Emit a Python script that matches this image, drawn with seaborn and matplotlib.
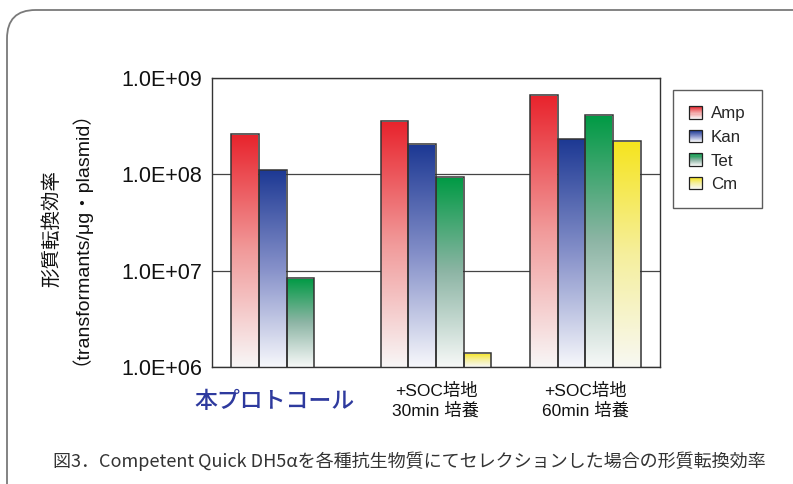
import numpy as np
import pandas as pd
import matplotlib
matplotlib.use("Agg")
import matplotlib.pyplot as plt
import seaborn as sns
from matplotlib.patches import Rectangle, FancyBboxPatch, Patch
from matplotlib.legend_handler import HandlerBase
from matplotlib.transforms import ScaledTranslation

# ---------------- data ----------------
conditions = ["本プロトコール", "+SOC培地\n30min 培養", "+SOC培地\n60min 培養"]
antibiotics = ["Amp", "Kan", "Tet", "Cm"]
amp = [2.6e8, 3.55e8, 6.6e8]
kan = [1.12e8, 2.05e8, 2.35e8]
tet = [8.3e6, 9.3e7, 4.1e8]
cm = [np.nan, 1.39e6, 2.2e8]
y_ticks = [1e6, 1e7, 1e8, 1e9]
y_tick_labels = ["1.0E+06", "1.0E+07", "1.0E+08", "1.0E+09"]
y_label = "形質転換効率\n（transformants/μg・plasmid）"
caption = "図3．Competent Quick DH5αを各種抗生物質にてセレクションした場合の形質転換効率"

# gradient stops (top -> middle -> bottom) per series
grad_stops = {
    "Amp": ["#e8232c", "#f19a9a", "#f8f6f6"],
    "Kan": ["#1c3893", "#8590c9", "#f6f7fb"],
    "Tet": ["#009a44", "#8db5a5", "#f6f8f7"],
    "Cm":  ["#f6e41e", "#f5ef9c", "#f8f8f2"],
}

rows = []
for i, c in enumerate(conditions):
    for a, vals in zip(antibiotics, [amp, kan, tet, cm]):
        rows.append({"condition": c, "antibiotic": a, "value": vals[i]})
df = pd.DataFrame(rows)

sns.set_theme(style="white")
FONT_MIX = ["Liberation Sans", "Noto Sans CJK JP"]
plt.rcParams["font.family"] = FONT_MIX

fig = plt.figure(figsize=(7.93, 4.84), dpi=100)
ax = fig.add_axes([212 / 793, 1 - 367 / 484, (660 - 212) / 793, (367 - 78) / 484])

sns.barplot(data=df, x="condition", y="value", hue="antibiotic",
            order=conditions, hue_order=antibiotics, ax=ax,
            width=0.74, errorbar=None, legend=False, log_scale=(False, True))

ax.set_yscale("log")
ax.set_ylim(1e6, 1e9)
ax.set_xlim(-0.5, len(conditions) - 0.5)
ax.autoscale(False)


def make_gradient(stops, n=256):
    cols = np.array([matplotlib.colors.to_rgb(s) for s in stops])
    t = np.linspace(0, 1, n)
    pos = np.linspace(0, 1, len(stops))
    arr = np.stack([np.interp(t, pos, cols[:, k]) for k in range(3)], axis=1)
    return arr  # row 0 = top


fig.canvas.draw()
for cont, name in zip(ax.containers, antibiotics):
    grad = make_gradient(grad_stops[name])[:, None, :]
    for bar in cont:
        h = bar.get_height()
        if not np.isfinite(h) or h <= 0:
            bar.set_visible(False)
            continue
        x0 = bar.get_x()
        w = bar.get_width()
        top_axes = ax.transAxes.inverted().transform(ax.transData.transform((x0, h)))[1]
        im = ax.imshow(grad, extent=[x0, x0 + w, 0, top_axes], origin="upper",
                       aspect="auto", transform=ax.get_xaxis_transform(),
                       interpolation="bilinear", zorder=2)
        im.set_clip_path(bar)
        bar.set_facecolor("none")
        bar.set_edgecolor("#333333")
        bar.set_linewidth(1.1)
        bar.set_zorder(3)

ax.set_xlim(-0.5, len(conditions) - 0.5)
ax.set_ylim(1e6, 1e9)

# grid & spines
ax.yaxis.grid(True, which="major", color="#444444", linewidth=0.9)
ax.xaxis.grid(False)
ax.set_axisbelow(True)
for s in ax.spines.values():
    s.set_visible(True)
    s.set_color("#333333")
    s.set_linewidth(1.0)

ax.set_yticks(y_ticks)
ax.set_yticklabels(y_tick_labels)
ax.yaxis.set_minor_locator(matplotlib.ticker.NullLocator())
ax.tick_params(axis="y", which="major", length=0, pad=7, labelsize=15.5, labelcolor="#111111")

# category ticks at boundaries, labels at centers
ax.set_xticks(np.arange(len(conditions)))
ax.set_xticklabels(conditions)
ax.set_xticks(np.arange(len(conditions) + 1) - 0.5, minor=True)
ax.tick_params(axis="x", which="major", length=0, pad=24.5)
ax.tick_params(axis="x", which="minor", direction="in", length=4, color="#555555", width=0.8)
ax.set_xlabel("")
for i, lab in enumerate(ax.get_xticklabels()):
    lab.set_verticalalignment("center")
    lab.set_linespacing(1.25)
    if i == 0:
        lab.set_fontsize(16.5)
        lab.set_color("#2e3a9e")
        lab.set_family(["Noto Sans CJK JP"])
        lab.set_fontweight("medium")
        lab.set_transform(lab.get_transform() + ScaledTranslation(-0.12, 0, fig.dpi_scale_trans))
    else:
        lab.set_fontsize(12.5)
        lab.set_color("#111111")

# y label
ax.set_ylabel(y_label, fontsize=14, linespacing=0.92, color="#111111")
ax.yaxis.set_label_coords(-0.293, 0.48)


# legend with gradient swatches
class GradientHandler(HandlerBase):
    def create_artists(self, legend, orig_handle, xdescent, ydescent,
                       width, height, fontsize, trans):
        stops = grad_stops[orig_handle.get_label()]
        cols = make_gradient(stops, 12)
        arts = []
        n = len(cols)
        side = height
        x = -xdescent + (width - side) / 2
        y = -ydescent
        for k in range(n):
            r = Rectangle((x, y + side * (n - 1 - k) / n), side, side / n,
                          facecolor=cols[k], edgecolor="none", transform=trans)
            arts.append(r)
        arts.append(Rectangle((x, y), side, side, facecolor="none",
                              edgecolor="#222222", linewidth=0.9, transform=trans))
        return arts


handles = [Patch(label=a) for a in antibiotics]
leg = ax.legend(handles=handles, labels=antibiotics,
                handler_map={Patch: GradientHandler()},
                loc="upper left", bbox_to_anchor=(1.029, 0.958),
                frameon=True, fancybox=False, fontsize=12.2,
                handlelength=0.75, handleheight=0.75, handletextpad=0.55,
                labelspacing=0.5, borderpad=0.95, borderaxespad=0)
leg.get_frame().set_edgecolor("#333333")
leg.get_frame().set_linewidth(1.0)

# caption
fig.text(409 / 793, 1 - 461 / 484, caption, ha="center", va="center",
         fontsize=13.0, color="#333333", family=["Noto Sans CJK JP"])

# rounded frame
frame = FancyBboxPatch((7 / 793, -0.1), 1.2, 1 - 10 / 484 + 0.1,
                       boxstyle="round,pad=0,rounding_size=0.036",
                       transform=fig.transFigure, facecolor="none",
                       edgecolor="#7a7a7a", linewidth=1.3, mutation_aspect=793 / 484)
fig.patches.append(frame)

fig.savefig("out.png", dpi=100)
